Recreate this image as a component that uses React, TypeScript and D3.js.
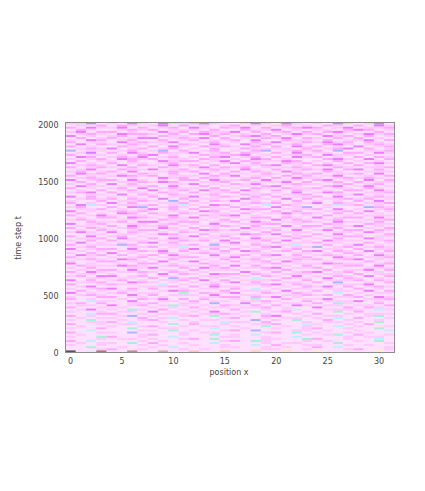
import React from "react";
import * as d3 from "d3";

// cell levels, top row (latest t) first.
// one string per time row, one character per position x (grouped in fours for counting)
const rows = [
  "2251 2142 1522 3521 1252 1521 2152 1251",
  "1213 1321 2413 1212 3121 2312 1321 3142",
  "3142 2413 1231 4213 2413 1234 3124 1223",
  "1321 1232 3122 2131 1322 4121 2213 4312",
  "2413 3121 1423 1322 4131 2313 1342 1131",
  "1232 1433 2131 3423 1213 1242 3121 2423",
  "4121 2312 1322 1131 2342 3121 1423 1312",
  "1312 3124 4123 2413 1213 2413 2131 3121",
  "2143 1231 1312 3122 3141 1322 1312 2413",
  "3122 1423 2241 1231 2132 4123 2423 1321",
  "1413 2132 1213 2142 1423 1231 1342 1232",
  "3121 1321 3142 1323 2131 3142 3121 4123",
  "1232 4123 1231 2131 1322 2213 1234 1312",
  "7122 1231 2713 1231 2137 1232 3171 1223",
  "1251 3142 1322 4123 1321 3141 2213 3142",
  "3122 1213 4121 1322 3412 1223 1422 1211",
  "1431 2324 1231 2134 1231 3142 3121 3132",
  "2123 1432 3122 1321 2143 1211 1342 1413",
  "1312 2131 1423 3124 1322 2431 2131 2121",
  "4121 3122 1231 1212 4131 1323 1213 1342",
  "1232 1413 2142 3131 1223 4121 3421 3121",
  "3123 2131 1321 2413 2312 1232 1132 1223",
  "1241 1322 4123 1232 1421 3123 2413 4131",
  "2312 3141 1232 3121 3132 1421 1321 1222",
  "1423 1213 2131 1413 1213 2132 3122 3141",
  "3121 2432 3122 2132 4122 1313 1241 1213",
  "1232 1121 1423 1321 1231 3142 2123 2321",
  "4123 3142 1213 3142 2314 1221 3412 1413",
  "1312 1223 2431 1223 1122 2413 1231 3122",
  "2131 4131 1122 4121 3241 1232 2123 1231",
  "1422 1222 3141 1312 1213 4121 1341 2412",
  "3121 2314 1232 2131 2132 1322 3122 1321",
  "1213 1231 4123 1423 1421 3132 1213 3142",
  "2341 3122 1321 3122 3121 2141 2431 1223",
  "1122 1413 2132 1231 1323 1223 1122 4121",
  "4131 2121 3122 4123 2131 3122 3141 1232",
  "1232 3132 1413 1221 1422 1413 1223 2312",
  "2113 1223 2171 3132 4121 2131 2121 3141",
  "3121 4131 1223 1211 1232 3122 4132 1223",
  "1482 1222 3128 2143 1218 1321 1282 3121",
  "2311 3147 1232 1321 3121 4127 1211 1732",
  "1223 1212 4131 3122 1433 1222 3141 2123",
  "4121 2323 1122 1431 2121 3131 1223 1412",
  "1312 1431 3213 2122 1312 2423 2131 3121",
  "3124 2122 1241 1323 4121 1212 1312 1222",
  "1213 3143 2132 4121 2133 1321 4123 3141",
  "2321 1221 1322 1213 1221 4132 1231 1223",
  "1132 2314 4123 3122 3142 1223 2142 2131",
  "4123 1122 1231 2141 1223 3121 1321 1322",
  "1221 3142 2312 1223 2131 1413 3122 4121",
  "3132 1231 1421 3121 1422 2122 1231 1213",
  "1213 2123 3122 1432 3121 3141 2413 3132",
  "2421 4132 1213 2121 1213 1222 1122 1421",
  "1122 1221 2431 1312 2432 4121 3141 2113",
  "3141 2312 1122 4123 1121 1323 1223 3122",
  "1223 1421 3142 1221 3142 2131 2131 1421",
  "2131 3122 1223 2314 1223 1412 1422 2123",
  "1412 1213 4131 1122 4121 3122 3121 1312",
  "3122 2731 1222 3171 2132 1281 1312 4121",
  "1231 1122 3128 1222 1213 4122 7123 1232",
  "4123 3141 1212 4131 3122 1231 1221 3122",
  "1212 1223 2413 1213 1431 2313 4132 1413",
  "2131 4121 1321 2322 1122 1122 1213 2121",
  "1423 1312 3142 1141 2313 4131 2321 3142",
  "3121 2123 1223 3122 4122 1223 1142 1223",
  "1232 1431 2131 1213 1231 2132 3123 4121",
  "2113 3122 1412 4121 3123 1421 1211 1312",
  "4121 1213 3121 1322 1212 3122 2432 2123",
  "1322 2432 1232 2131 4131 1213 1123 3141",
  "2131 1122 4113 1423 1223 4122 3121 1222",
  "1213 3141 1221 3122 2112 1311 1312 2413",
  "3142 1223 2132 1211 1421 3123 4123 1121",
  "1221 2112 1413 2143 3132 1222 1221 3122",
  "2314 4123 1221 1222 1213 2141 2132 1413",
  "1122 1221 3172 3121 2181 1322 1413 2121",
  "4131 2312 1223 1413 1222 3113 1222 3132",
  "1223 1143 2121 2122 4131 1221 3171 1213",
  "3112 3221 1812 1231 1223 4132 1122 2411",
  "1241 1112 2231 3142 2112 1213 2413 1232",
  "2123 4131 3112 1221 3181 2122 1221 3121",
  "1312 1221 1243 2113 1222 1411 3122 1413",
  "4121 2312 2119 1322 4113 2132 1181 2122",
  "1232 1141 3122 2141 1221 1223 2313 1211",
  "2113 3122 1211 1223 3132 4121 1122 3142",
  "3121 1213 2413 1311 2191 1312 2411 1223",
  "1182 2141 1221 3122 1223 2113 1222 4121",
  "2313 1122 3112 2171 1412 1221 3192 1131",
  "1221 4123 1292 1213 2131 3142 1221 2213",
  "3112 1211 2121 3122 1223 1211 4113 1321",
  "1241 2192 1312 1211 3112 1281 1222 2182",
  "2112 1221 4121 2141 1291 2312 1191 3111",
  "1183 3112 1222 1223 2112 1121 3112 1222",
  "3121 1271 2112 3191 1213 4112 1221 1291",
  "1212 2113 1281 1112 3112 1221 2181 3112",
  "2191 1212 3112 1221 1171 2191 1312 1121",
  "1122 3181 1211 2118 2213 1112 1221 2191",
  "3112 1221 1191 3112 1122 3118 2112 1311",
  "1211 2112 3112 1221 2119 1212 1181 2112",
  "2113 1191 1221 1181 1211 2112 3112 1191",
  "1181 1112 2191 2112 3171 1122 1211 2118",
  "3112 2171 1112 1221 1112 3191 2112 1211",
  "1211 1112 3112 1191 2181 1112 1291 3112",
  "2119 3112 1181 1112 2112 1181 1112 1221",
  "1112 1221 2112 3191 1112 2119 3112 1181",
  "3181 1112 1211 1112 3192 1112 1211 2191",
  "1212 2191 3112 1181 1112 1221 1191 1112",
  "2112 1112 1211 2112 1181 3112 2112 1211",
  "1191 1211 2181 1112 2112 1211 3181 1112",
  "1112 3112 1112 1211 1112 2112 1112 3112",
  "a11b 11c1 1d11 e11f 11h1 1i11 j11k 11j1",
];

const levels = "0123456789gabcdefhijkl".split("");
const levelColors = [
  "#fff2ff", "#ffe0ff", "#ffc8ff", "#ffa8ff", "#ec7cff", "#d67cff", "#b890ff",
  "#a8b4ff", "#c4ecff", "#a8f0d8", "#b4f0a8",
  "#555555", "#a87a7a", "#c88a8a", "#e8a8a8", "#ffc4bc", "#ffc8a0",
  "#ffd8a8", "#ffe8b0", "#fff0c0", "#ffe4d8", "#b4f0a8",
];

const xTicks = [0, 5, 10, 15, 20, 25, 30];
const yTicks = [0, 500, 1000, 1500, 2000];
const tMax = 2024;
const columnCount = 32;

export default function App() {
  const margin = { left: 65.5, top: 122.5, right: 394.5, bottom: 352.5 };
  const color = d3.scaleOrdinal<string, string>().domain(levels).range(levelColors);
  const xScale = d3.scaleLinear().domain([-0.5, 31.5]).range([margin.left, margin.right]);
  const yScale = d3.scaleLinear().domain([0, tMax]).range([margin.bottom, margin.top]);
  const band = d3
    .scaleBand<number>()
    .domain(d3.range(rows.length))
    .range([margin.top, margin.bottom]);

  const grid = rows.map((r) => r.replace(/ /g, "").split(""));
  const font = "'DejaVu Sans', sans-serif";

  return (
    <svg width={425} height={491} style={{ position: "absolute", left: 0, top: 0 }}>
      <rect width={425} height={491} fill="#ffffff" />
      <rect
        x={margin.left}
        y={margin.top}
        width={margin.right - margin.left}
        height={margin.bottom - margin.top}
        fill="#ffe0ff"
      />
      {grid.map((cells, r) =>
        cells.slice(0, columnCount).map((c, i) => (
          <rect
            key={r + "-" + i}
            x={xScale(i - 0.5)}
            y={band(r)}
            width={xScale(1) - xScale(0)}
            height={band.bandwidth()}
            fill={color(c)}
          />
        ))
      )}
      <rect
        x={margin.left}
        y={margin.top}
        width={margin.right - margin.left}
        height={margin.bottom - margin.top}
        fill="none"
        stroke="#8c8c8c"
        strokeWidth={1}
      />
      <g fontFamily={font} fontSize={8} fill="#444444">
        {xTicks.map((t) => (
          <text key={t} x={xScale(t)} y={364} textAnchor="middle">
            {t}
          </text>
        ))}
        {yTicks.map((t) => (
          <text key={t} x={58.5} y={yScale(t) + 3} textAnchor="end">
            {t}
          </text>
        ))}
        <text x={229} y={375} textAnchor="middle">
          position x
        </text>
        <text transform="translate(21,238) rotate(-90)" textAnchor="middle">
          time step t
        </text>
      </g>
    </svg>
  );
}
